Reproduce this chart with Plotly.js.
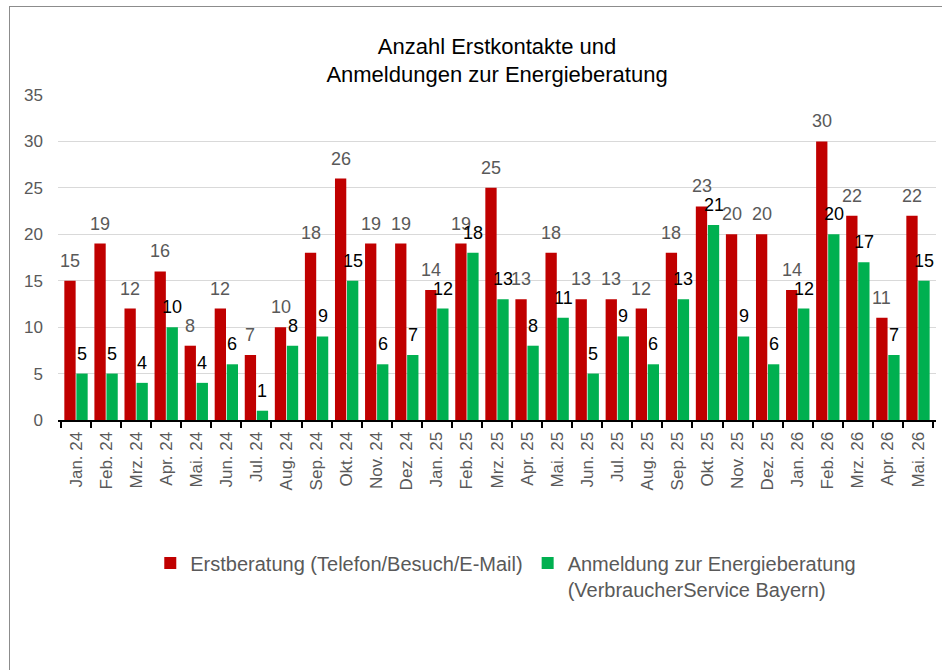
<!DOCTYPE html>
<html>
<head>
<meta charset="utf-8">
<script src="https://cdn.plot.ly/plotly-3.0.1.min.js"></script>
<style>
  html, body { margin: 0; padding: 0; background: #fff; }
  #plot { width: 942px; height: 670px; }
  #frame {
    position: absolute; left: 9px; top: 6px; width: 1000px; height: 1000px;
    border: 1px solid #8c8c8c; pointer-events: none;
  }
</style>
</head>
<body>
<div id="plot"></div>
<div id="frame"></div>
<script>
const months = [
  'Jan. 24', 'Feb. 24', 'Mrz. 24', 'Apr. 24', 'Mai. 24', 'Jun. 24', 'Jul. 24', 'Aug. 24',
  'Sep. 24', 'Okt. 24', 'Nov. 24', 'Dez. 24',
  'Jan. 25', 'Feb. 25', 'Mrz. 25', 'Apr. 25', 'Mai. 25', 'Jun. 25', 'Jul. 25', 'Aug. 25',
  'Sep. 25', 'Okt. 25', 'Nov. 25', 'Dez. 25',
  'Jan. 26', 'Feb. 26', 'Mrz. 26', 'Apr. 26', 'Mai. 26'
];
const erstberatung = [15, 19, 12, 16, 8, 12, 7, 10, 18, 26, 19, 19,
                      14, 19, 25, 13, 18, 13, 13, 12, 18, 23, 20, 20,
                      14, 30, 22, 11, 22];
const anmeldung = [5, 5, 4, 10, 4, 6, 1, 8, 9, 15, 6, 7,
                   12, 18, 13, 8, 11, 5, 9, 6, 13, 21, 9, 6,
                   12, 20, 17, 7, 15];

const FONT = '"Liberation Sans", Arial, sans-serif';
const RED = '#c00000';
const GREEN = '#00b050';
const GREY = '#595959';

const traces = [
  {
    type: 'bar', name: 'Erstberatung (Telefon/Besuch/E-Mail)',
    x: months, y: erstberatung,
    marker: { color: RED },
    hoverinfo: 'x+y'
  },
  {
    type: 'bar', name: 'Anmeldung zur Energieberatung<br>(VerbraucherService Bayern)',
    x: months, y: anmeldung,
    marker: { color: GREEN },
    hoverinfo: 'x+y'
  }
];

// value labels above bars
const labels = [];
months.forEach((m, i) => {
  labels.push({
    x: m, y: erstberatung[i], text: String(erstberatung[i]),
    xshift: -6, yshift: 8, yanchor: 'bottom', showarrow: false,
    font: { family: FONT, size: 18, color: GREY }
  });
  labels.push({
    x: m, y: anmeldung[i], text: String(anmeldung[i]),
    xshift: 6, yshift: 8, yanchor: 'bottom', showarrow: false,
    font: { family: FONT, size: 18, color: '#000' }
  });
});

const layout = {
  width: 942, height: 670,
  margin: { l: 58, r: 6, t: 95, b: 250 },
  paper_bgcolor: '#fff', plot_bgcolor: '#fff',
  font: { family: FONT, color: GREY },
  title: {
    text: 'Anzahl Erstkontakte und<br>Anmeldungen zur Energieberatung',
    font: { family: FONT, size: 22, color: '#000' },
    x: 0.5, xref: 'paper', y: 0.92, yref: 'container', yanchor: 'top'
  },
  barmode: 'group', bargap: 0.2, bargroupgap: 0.06,
  xaxis: {
    type: 'category', tickangle: -90, tickson: 'boundaries',
    ticks: 'outside', ticklen: 6, tickcolor: '#000', tickwidth: 2,
    showline: true, linecolor: '#000', linewidth: 2,
    showgrid: false, ticklabelstandoff: 3,
    tickfont: { family: FONT, size: 17, color: GREY }
  },
  yaxis: {
    range: [0, 35], dtick: 5, showline: false, zeroline: false,
    gridcolor: '#d9d9d9', gridwidth: 1, ticks: '',
    ticklabelstandoff: 14,
    tickfont: { family: FONT, size: 17, color: GREY }
  },
  legend: {
    orientation: 'h', x: 0.51, xanchor: 'center', y: -0.38, yanchor: 'top',
    valign: 'top', font: { family: FONT, size: 20, color: GREY },
    itemwidth: 30
  },
  annotations: labels,
  showlegend: true
};

Plotly.newPlot('plot', traces, layout, { displayModeBar: false, staticPlot: true });
</script>
</body>
</html>
